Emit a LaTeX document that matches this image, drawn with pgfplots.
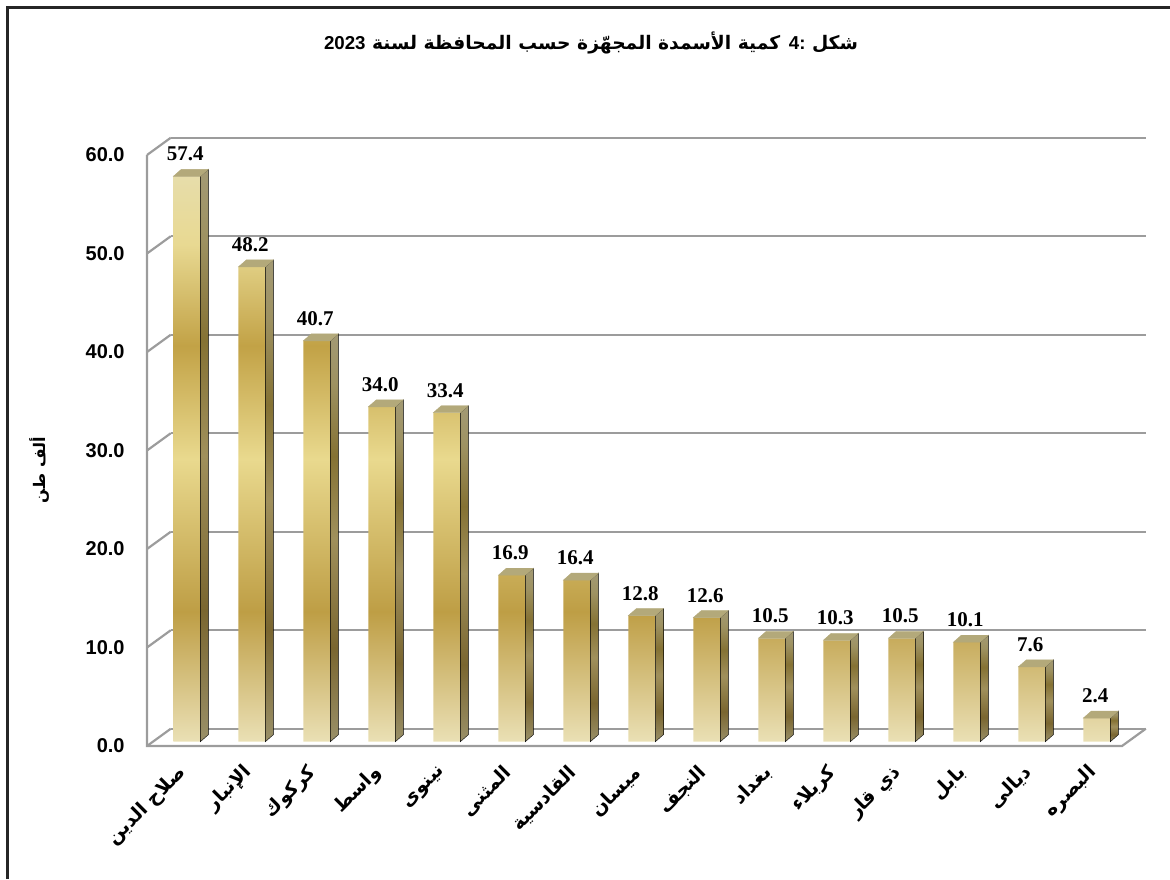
\documentclass[border=0pt]{standalone}
\usepackage{fontspec}
\setmainfont{Liberation Sans}
\newfontfamily\serifnum{Liberation Serif}
\newfontfamily\arabicfont[Script=Arabic]{DejaVu Sans}
\usepackage{pgfplots}
\usepackage{pgfplotstable}
\pgfplotsset{compat=1.18}
\TeXXeTstate=1

\definecolor{gA}{HTML}{EAE0B5}
\definecolor{gB}{HTML}{BE9E45}
\definecolor{gC}{HTML}{E9D98E}
\definecolor{gD}{HTML}{C2A246}
\definecolor{gE}{HTML}{E8D992}
\definecolor{gF}{HTML}{E7DDAA}
\definecolor{sA}{HTML}{9A9068}
\definecolor{sB}{HTML}{7A6630}
\definecolor{sC}{HTML}{A0905C}
\definecolor{sD}{HTML}{857234}
\definecolor{sE}{HTML}{9E9262}
\definecolor{sF}{HTML}{A39A74}
\definecolor{topgold}{HTML}{B3A97A}
\definecolor{gridgray}{HTML}{9C9C9C}

\pgfdeclareverticalshading{goldfront}{100bp}{color(0bp)=(gA); color(25bp)=(gA); color(36.5bp)=(gB); color(50bp)=(gC); color(60bp)=(gD); color(69bp)=(gE); color(75bp)=(gF); color(100bp)=(gF)}
\pgfdeclareverticalshading{goldside}{100bp}{color(0bp)=(sA); color(25bp)=(sA); color(36.5bp)=(sB); color(50bp)=(sC); color(60bp)=(sD); color(69bp)=(sE); color(75bp)=(sF); color(100bp)=(sF)}
\pgfdeclareplotmark{nothing}{}

\pgfplotstableread{
idx val
0 57.4
1 48.2
2 40.7
3 34.0
4 33.4
5 16.9
6 16.4
7 12.8
8 12.6
9 10.5
10 10.3
11 10.5
12 10.1
13 7.6
14 2.4
}\fert

\begin{document}
\begin{tikzpicture}
\draw[line width=3pt, color=black!85] (7pt,-879pt) -- (7pt,-7pt) -- (1170pt,-7pt);
\node[font=\arabicfont\bfseries\fontsize{18.7}{22}\selectfont] at (591pt,-43pt)
  {\beginR شكل \beginL{\rmfamily\bfseries 4:}\endL{} كمية الأسمدة المجهّزة حسب المحافظة لسنة \beginL{\rmfamily\bfseries 2023}\endL\endR};
\begin{axis}[
  at={(152.8pt,-741.7pt)}, anchor=south west,
  scale only axis, width=975pt, height=591pt,
  xmin=-0.5, xmax=14.5, ymin=0, ymax=60,
  clip=false,
  axis line style={draw=none},
  tick style={draw=none},
  ytick={0,10,...,60},
  yticklabel={\pgfmathprintnumber[fixed,fixed zerofill,precision=1,assume math mode=true]{\tick}},
  yticklabel style={font=\bfseries\fontsize{20}{23}\selectfont, anchor=east, inner sep=0pt, xshift=-28pt, yshift=-4.3pt},
  ymajorgrids,
  major grid style={draw=gridgray, line width=2.2pt, xshift=18pt, yshift=13pt},
  xtick={0,...,14},
  xticklabels={{\beginR صلاح الدين\endR},{\beginR الإنبار\endR},{\beginR كركوك\endR},{\beginR واسط\endR},{\beginR نينوى\endR},{\beginR المثنى\endR},{\beginR القادسية\endR},{\beginR ميسان\endR},{\beginR النجف\endR},{\beginR بغداد\endR},{\beginR كربلاء\endR},{\beginR ذي قار\endR},{\beginR بابل\endR},{\beginR ديالى\endR},{\beginR البصره\endR}},
  xticklabel style={font=\arabicfont\bfseries\fontsize{19}{22}\selectfont, inner sep=0pt, xshift=-2pt, yshift=-28pt, rotate=45, anchor=east},
  ylabel={\beginR ألف طن\endR},
  ylabel style={font=\arabicfont\bfseries\fontsize{16}{19}\selectfont, at={([xshift=-113pt,yshift=-24pt]axis description cs:0,0.5)}, anchor=center},
]
\draw[gridgray, line width=2.2pt] ([shift={(-5.8pt,-4.3pt)}]axis cs:-0.5,60) -- ([shift={(-5.8pt,-4.3pt)}]axis cs:-0.5,0) -- ([shift={(-5.8pt,-4.3pt)}]axis cs:14.5,0) -- ([shift={(18pt,13pt)}]axis cs:14.5,0);
\pgfplotsinvokeforeach{0,10,...,60}{\draw[gridgray, line width=2.2pt] ([shift={(-5.8pt,-4.3pt)}]axis cs:-0.5,#1) -- ([shift={(18pt,13pt)}]axis cs:-0.5,#1);}
\addplot[ybar, bar width=27pt, bar shift=1.5pt, draw=none, shade, shading=goldfront,
  nodes near coords={\pgfmathprintnumber[fixed,fixed zerofill,precision=1,assume math mode=true]{\pgfplotspointmeta}},
  every node near coord/.append style={font=\serifnum\bfseries\fontsize{21}{24}\selectfont, anchor=south, inner sep=0pt, yshift=15pt, text=black}]
  table[x=idx,y=val]{\fert};
\addplot[scatter, only marks, mark=nothing,
  visualization depends on={rawy \as \rawy},
  scatter/@pre marker code/.code={%
    \pgfmathsetmacro{\h}{-\rawy*9.85}%
    \pgfmathsetmacro{\hh}{-\rawy*9.85+7}%
    \shade[shading=goldside] (15pt,\h pt) -- (15pt,0pt) -- (23pt,7pt) -- (23pt,\hh pt) -- cycle;
    \fill[topgold] (-12pt,0pt) -- (15pt,0pt) -- (23pt,7pt) -- (-4pt,7pt) -- cycle;
  },
  scatter/@post marker code/.code={}]
  table[x=idx,y=val]{\fert};
\end{axis}
\pgfresetboundingbox
\useasboundingbox (0,0) rectangle (1170pt,-879pt);
\end{tikzpicture}
\end{document}
